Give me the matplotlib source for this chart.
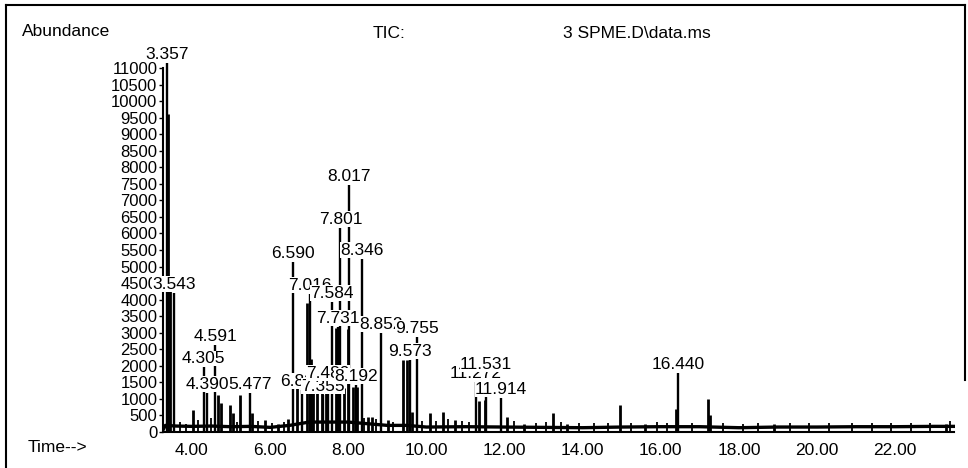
import numpy as np
import matplotlib
matplotlib.use('Agg')
import matplotlib.pyplot as plt
from matplotlib.lines import Line2D

plt.rcParams['font.family'] = ['Liberation Sans', 'DejaVu Sans']

# labelled peaks: retention time (min) and abundance at the apex
peak_rt = [3.357, 3.543, 4.305, 4.390, 4.591, 5.477, 6.590, 6.820, 7.016, 7.355,
           7.489, 7.584, 7.731, 7.801, 8.017, 8.192, 8.346, 8.852, 9.573, 9.755,
           11.272, 11.531, 11.914, 16.440]
peak_h = [11150, 4200, 1950, 1180, 2630, 1180, 5140, 1270, 4170, 1120,
          1510, 3930, 3170, 6160, 7460, 1420, 5230, 2990, 2175, 2870,
          1510, 1780, 1030, 1780]

# unlabelled peaks
minor_rt = [3.38, 3.45, 4.03, 4.66, 4.74, 4.97, 5.05, 5.23, 5.54, 5.87, 6.20, 6.45,
            6.69, 6.95, 7.05, 7.10, 7.20, 7.33, 7.43, 7.69, 7.76, 7.89, 7.99, 8.12,
            8.23, 8.50, 8.62, 9.02, 9.41, 9.50, 9.62, 10.09, 10.42, 10.73, 11.35,
            11.50, 12.06, 12.50, 13.25, 13.60, 14.96, 15.60, 16.40, 17.21, 17.26,
            18.90, 23.30]
minor_h = [9600, 4300, 660, 1120, 880, 820, 570, 1120, 570, 360, 250, 400,
           1330, 3900, 2200, 1500, 1330, 1330, 1180, 3140, 3140, 1330, 3100, 1360,
           1360, 450, 450, 360, 2175, 2175, 600, 570, 600, 360, 950,
           970, 450, 250, 570, 250, 815, 250, 700, 1000, 500,
           230, 250]

# small noise spikes on the baseline
noise_rt = [3.70, 3.85, 4.15, 4.50, 5.15, 5.70, 6.05, 6.35, 8.40, 8.70, 9.15, 9.90,
            10.25, 10.55, 10.90, 11.10, 12.25, 12.80, 13.05, 13.45, 13.90, 14.30,
            14.65, 15.25, 15.90, 16.15, 16.80, 17.60, 18.10, 18.50, 19.30, 19.80,
            20.30, 20.90, 21.40, 21.90, 22.40, 22.90, 23.40]
noise_h = [300, 250, 350, 420, 300, 330, 280, 300, 420, 380, 300, 330,
           330, 380, 320, 300, 330, 280, 300, 300, 280, 270,
           280, 260, 300, 280, 280, 270, 250, 260, 280, 260,
           270, 260, 260, 270, 260, 270, 330]

baseline_t = [3.26, 3.32, 3.60, 4.00, 4.50, 5.00, 5.50, 6.00, 6.50, 7.00, 7.50, 8.00,
              8.50, 9.00, 9.50, 10.0, 11.0, 12.0, 13.0, 14.0, 15.0, 16.0, 17.0,
              18.0, 19.0, 20.0, 21.0, 22.0, 23.0, 23.5]
baseline_v = [60, 200, 180, 170, 180, 160, 170, 140, 200, 300, 300, 300,
              250, 200, 200, 150, 160, 150, 140, 130, 150, 160, 160,
              130, 150, 150, 160, 160, 170, 170]

y_ticks = list(range(0, 11001, 500))
x_ticks = [4, 6, 8, 10, 12, 14, 16, 18, 20, 22]

W, H = 968, 468
fig = plt.figure(figsize=(W / 100, H / 100), dpi=100)
ax = fig.add_axes([163 / W, 36 / H, (955 - 163) / W, 427 / H])

ax.plot(baseline_t, baseline_v, color='black', lw=2.4, zorder=2)
ax.vlines(noise_rt, 0, noise_h, color='black', lw=1.3, zorder=2)
ax.vlines(minor_rt, 0, minor_h, color='black', lw=2.0, zorder=2)
ax.vlines(peak_rt, 0, peak_h, color='black', lw=1.7, zorder=2)

# peak labels, later ones drawn over earlier ones like the data system does
for i, (rt, h) in enumerate(zip(peak_rt, peak_h)):
    ax.annotate(f'{rt:.3f}', (rt, h), xytext=(0, 1), textcoords='offset points',
                ha='center', va='bottom', fontsize=12.5, zorder=10 + i,
                bbox=dict(boxstyle='square,pad=0.02', fc='white', ec='none'))

ax.set_xlim(3.26, 23.53)
ax.set_ylim(0, 12904)
for s in ['top', 'right']:
    ax.spines[s].set_visible(False)
ax.spines['left'].set_bounds(0, 11000)
ax.spines['bottom'].set_bounds(3.26, 23.5)
ax.spines['left'].set_linewidth(1.5)
ax.spines['bottom'].set_linewidth(1.5)

ax.set_yticks(y_ticks)
ax.set_yticklabels([str(v) for v in y_ticks])
ax.set_xticks(x_ticks)
ax.set_xticklabels([f'{v:.2f}' for v in x_ticks])
ax.tick_params(axis='y', length=3, width=1, pad=1, labelsize=12)
ax.tick_params(axis='x', length=0, pad=8, labelsize=12.5)
ax.patch.set_visible(False)

fig.text(22 / W, 1 - 31 / H, 'Abundance', fontsize=12.5, va='center', ha='left')
fig.text(373 / W, 1 - 33 / H, 'TIC:', fontsize=12.5, va='center', ha='left')
fig.text(563 / W, 1 - 33 / H, '3 SPME.D\\data.ms', fontsize=12.5, va='center', ha='left')
fig.text(28 / W, 1 - 447 / H, 'Time-->', fontsize=12.5, va='center', ha='left')

# window frame
frame = [((6, 5), (6, 468)), ((6, 5), (965, 5)), ((965, 5), (965, 380))]
for (x0, y0), (x1, y1) in frame:
    fig.add_artist(Line2D([x0 / W, x1 / W], [1 - y0 / H, 1 - y1 / H],
                          color='black', lw=1.5, transform=fig.transFigure))

fig.savefig('out.png', dpi=100)
